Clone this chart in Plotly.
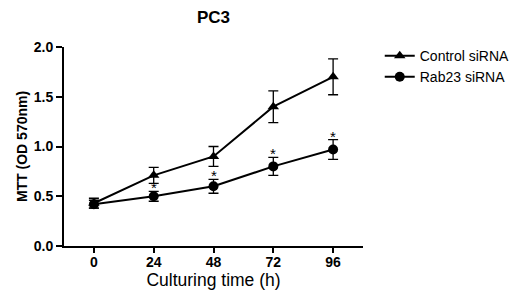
import plotly.graph_objects as go

hours = [0, 24, 48, 72, 96]
control_mean = [0.43, 0.71, 0.90, 1.40, 1.70]
control_err = [0.05, 0.08, 0.10, 0.16, 0.18]
rab23_mean = [0.42, 0.50, 0.60, 0.80, 0.97]
rab23_err = [0.04, 0.05, 0.07, 0.09, 0.10]
sig_hours = [24, 48, 72, 96]
x_ticks = [0, 24, 48, 72, 96]
y_ticks = [0.0, 0.5, 1.0, 1.5, 2.0]

FONT = "Arial, Liberation Sans, sans-serif"

fig = go.Figure()
fig.add_trace(go.Scatter(
    x=hours, y=control_mean, name="Control siRNA", mode="lines+markers",
    line=dict(color="black", width=2),
    marker=dict(symbol="triangle-up", size=10, color="black"),
    error_y=dict(type="data", array=control_err, color="black", thickness=1.3, width=5),
))
fig.add_trace(go.Scatter(
    x=hours, y=rab23_mean, name="Rab23 siRNA", mode="lines+markers",
    line=dict(color="black", width=2),
    marker=dict(symbol="circle", size=10, color="black"),
    error_y=dict(type="data", array=rab23_err, color="black", thickness=1.3, width=5),
))

for h in sig_hours:
    i = hours.index(h)
    fig.add_annotation(x=h, y=rab23_mean[i] + rab23_err[i], text="*", showarrow=False,
                       yanchor="bottom", yshift=-6, borderpad=0,
                       font=dict(family=FONT, size=15, color="black"))

fig.update_layout(
    width=527, height=301,
    margin=dict(l=64, r=164, t=47, b=55, autoexpand=False),
    paper_bgcolor="white", plot_bgcolor="white",
    font=dict(family=FONT, color="black"),
    title=dict(text="<b>PC3</b>", x=213.5/527, xanchor="center", y=1 - 17/301, yanchor="middle",
               font=dict(size=17, color="black")),
    legend=dict(x=1.056, y=1.035, xanchor="left", yanchor="top",
                font=dict(size=14, color="black"), bgcolor="rgba(0,0,0,0)",
                tracegroupgap=0),
    showlegend=True,
)
fig.update_xaxes(
    range=[-12, 108], tickvals=x_ticks, ticktext=[f"<b>{v}</b>" for v in x_ticks],
    showline=True, linecolor="black", linewidth=2, showgrid=False, zeroline=False,
    ticks="outside", ticklen=5, tickwidth=1.5, tickcolor="black", automargin=False,
    ticklabelstandoff=-3,
    tickfont=dict(size=14, family=FONT, color="black"),
    title=dict(text="Culturing time (h)", font=dict(size=17.5, color="black"), standoff=0),
)
fig.update_yaxes(
    range=[0, 2.0], tickvals=y_ticks, ticktext=[f"<b>{v:.1f}</b>" for v in y_ticks],
    showline=True, linecolor="black", linewidth=2, showgrid=False, zeroline=False,
    ticks="outside", ticklen=6, tickwidth=1.5, tickcolor="black", automargin=False,
    tickfont=dict(size=14, color="black"),
    title=dict(text="<b>MTT (OD 570nm)</b>", font=dict(size=14, color="black"), standoff=3),
)

fig.write_html("out.html", config={"displayModeBar": False},
               post_script="document.body.style.margin='0';document.body.style.overflow='hidden';")
